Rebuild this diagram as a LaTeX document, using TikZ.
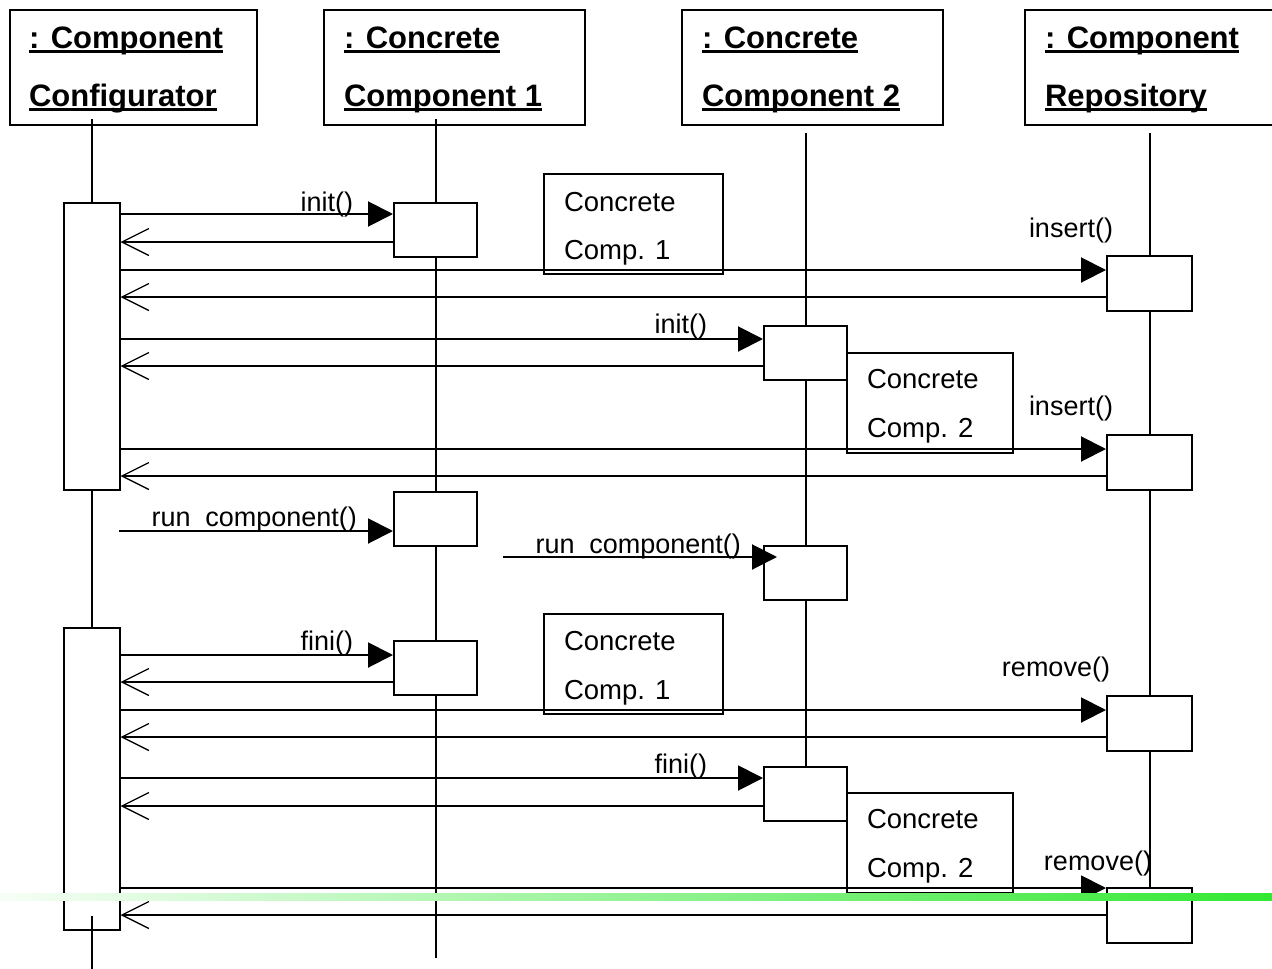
\documentclass[tikz,border=0pt]{standalone}
\usepackage{fontspec}
\setmainfont{Liberation Sans}
\usetikzlibrary{arrows.meta}
\definecolor{hl}{RGB}{50,232,50}
\newcommand\myul[1]{\setbox0\hbox{#1}\rlap{\rule[-5pt]{\wd0}{2.8pt}}\box0}
\begin{document}
\begin{tikzpicture}[x=1pt,y=-1pt,line width=2pt,
  hdrbox/.style={draw,inner sep=0pt,minimum height=115pt},
  hdrtxt/.style={font=\fontsize{31}{31}\selectfont\bfseries,inner sep=0pt,anchor=base west},
  actbox/.style={draw,fill=white,inner sep=0pt},
  cbox/.style={actbox,minimum width=83pt,minimum height=54pt},
  rbox/.style={actbox,minimum width=85pt,minimum height=55pt},
  notebox/.style={draw,inner sep=0pt,minimum height=100pt},
  notetxt/.style={font=\fontsize{27.5}{27.5}\selectfont,inner sep=0pt,anchor=base west},
  lbl/.style={font=\fontsize{27}{27}\selectfont,inner sep=0pt,anchor=base east},
  call/.style={-{Triangle[length=25pt,width=25pt]}},
  ret/.style={-{Straight Barb[length=27pt,width=27pt,line width=1.3pt]}}]
\useasboundingbox (0,0) rectangle (1272,969);

% header boxes
\node[hdrbox,minimum width=247pt] (h1) at (133.5,67.5) {};
\node[hdrbox,minimum width=261pt] (h2) at (454.5,67.5) {};
\node[hdrbox,minimum width=261pt] (h3) at (812.5,67.5) {};
\node[hdrbox,minimum width=248pt] (h4) at (1149,67.5) {};
\node[hdrtxt] (t1a) at (28,48) {\myul{: Component}};
\node[hdrtxt] (t1b) at (28,106) {\myul{Configurator}};
\node[hdrtxt] (t2a) at (343,48) {\myul{: Concrete}};
\node[hdrtxt] (t2b) at (343,106) {\myul{Component 1}};
\node[hdrtxt] (t3a) at (701,48) {\myul{: Concrete}};
\node[hdrtxt] (t3b) at (701,106) {\myul{Component 2}};
\node[hdrtxt] (t4a) at (1044,48) {\myul{: Component}};
\node[hdrtxt] (t4b) at (1044,106) {\myul{Repository}};

% activation boxes
\node[actbox,minimum width=56pt,minimum height=287pt] (A1) at (91.5,346.5) {};
\node[actbox,minimum width=56pt,minimum height=302pt] (A2) at (91.5,779) {};
\node[cbox] (C1a) at (435.5,229.5) {};
\node[cbox] (C1b) at (435.5,518.5) {};
\node[cbox] (C1c) at (435.5,668) {};
\node[cbox] (C2a) at (805.5,352.5) {};
\node[cbox] (C2b) at (805.5,573) {};
\node[cbox] (C2c) at (805.5,793.5) {};
\node[rbox] (Ra) at (1149.5,283.5) {};
\node[rbox] (Rb) at (1149.5,462.5) {};
\node[rbox] (Rc) at (1149.5,723.5) {};
\node[rbox] (Rd) at (1149.5,915.5) {};

% lifelines
\coordinate (l1end) at (91.5,969);
\coordinate (l2end) at (435.5,958);
\draw ([yshift=7pt]h1.south -| A1.north) -- (A1.north);
\draw (A1.south) -- (A2.north);
\draw ([yshift=15pt]A2.south) -- (l1end);
\draw ([yshift=7pt]h2.south -| C1a.north) -- (C1a.north);
\draw (C1a.south) -- (C1b.north);
\draw (C1b.south) -- (C1c.north);
\draw (C1c.south) -- (l2end);
\draw ([yshift=-7pt]h3.south -| C2a.north) -- (C2a.north);
\draw (C2a.south) -- (C2b.north);
\draw (C2b.south) -- (C2c.north);
\draw ([yshift=-7pt]h4.south -| Ra.north) -- (Ra.north);
\draw (Ra.south) -- (Rb.north);
\draw (Rb.south) -- (Rc.north);
\draw (Rc.south) -- (Rd.north);

% notes
\node[notebox,minimum width=179pt] (N1) at (633.5,224) {};
\node[notebox,minimum width=166pt] (N2) at (930,402.5) {};
\node[notebox,minimum width=179pt] (N3) at (633.5,664) {};
\node[notebox,minimum width=166pt] (N4) at (930,843) {};
\node[notetxt] (n1a) at (563,211) {Concrete};
\node[notetxt] (n1b) at (563,259) {Comp. 1};
\node[notetxt] (n2a) at (866,388) {Concrete};
\node[notetxt] (n2b) at (866,437) {Comp. 2};
\node[notetxt] (n3a) at (563,650) {Concrete};
\node[notetxt] (n3b) at (563,699) {Comp. 1};
\node[notetxt] (n4a) at (866,828) {Concrete};
\node[notetxt] (n4b) at (866,877) {Comp. 2};

% messages
\draw[call] (A1.east |- 0,214) -- (C1a.west |- 0,214);
\draw[ret]  (C1a.west |- 0,242) -- (A1.east |- 0,242);
\draw[call] (A1.east |- 0,270) -- (Ra.west |- 0,270);
\draw[ret]  (Ra.west |- 0,297) -- (A1.east |- 0,297);
\draw[call] (A1.east |- 0,339) -- (C2a.west |- 0,339);
\draw[ret]  (C2a.west |- 0,366) -- (A1.east |- 0,366);
\draw[call] (A1.east |- 0,449) -- (Rb.west |- 0,449);
\draw[ret]  (Rb.west |- 0,476) -- (A1.east |- 0,476);
\coordinate (r1start) at (119,531);
\draw[call] (r1start) -- (C1b.west |- r1start);
\coordinate (r2start) at (503,557);
\coordinate (r2tip) at (777,557);
\draw[call] (r2start) -- (r2tip);
\draw[call] (A2.east |- 0,655) -- (C1c.west |- 0,655);
\draw[ret]  (C1c.west |- 0,682) -- (A2.east |- 0,682);
\draw[call] (A2.east |- 0,710) -- (Rc.west |- 0,710);
\draw[ret]  (Rc.west |- 0,737) -- (A2.east |- 0,737);
\draw[call] (A2.east |- 0,778) -- (C2c.west |- 0,778);
\draw[ret]  (C2c.west |- 0,806) -- (A2.east |- 0,806);
\draw[call] (A2.east |- 0,888) -- (Rd.west |- 0,888);
\draw[ret]  (Rd.west |- 0,915) -- (A2.east |- 0,915);

% labels
\node[lbl] (m1) at (354,211) {init()};
\node[lbl] (m2) at (1114,237) {insert()};
\node[lbl] (m3) at (708,333) {init()};
\node[lbl] (m4) at (1114,415) {insert()};
\node[lbl] (m5) at (358,526) {run\hspace{0.55em}component()};
\node[lbl] (m6) at (742,553) {run\hspace{0.55em}component()};
\node[lbl] (m7) at (354,650) {fini()};
\node[lbl] (m8) at (1111,676) {remove()};
\node[lbl] (m9) at (708,773) {fini()};
\node[lbl] (m10) at (1153,870) {remove()};

% highlight stroke
\shade[left color=hl!4,right color=hl,draw=none] (0,893.5) rectangle (1272,900);
\end{tikzpicture}
\end{document}
